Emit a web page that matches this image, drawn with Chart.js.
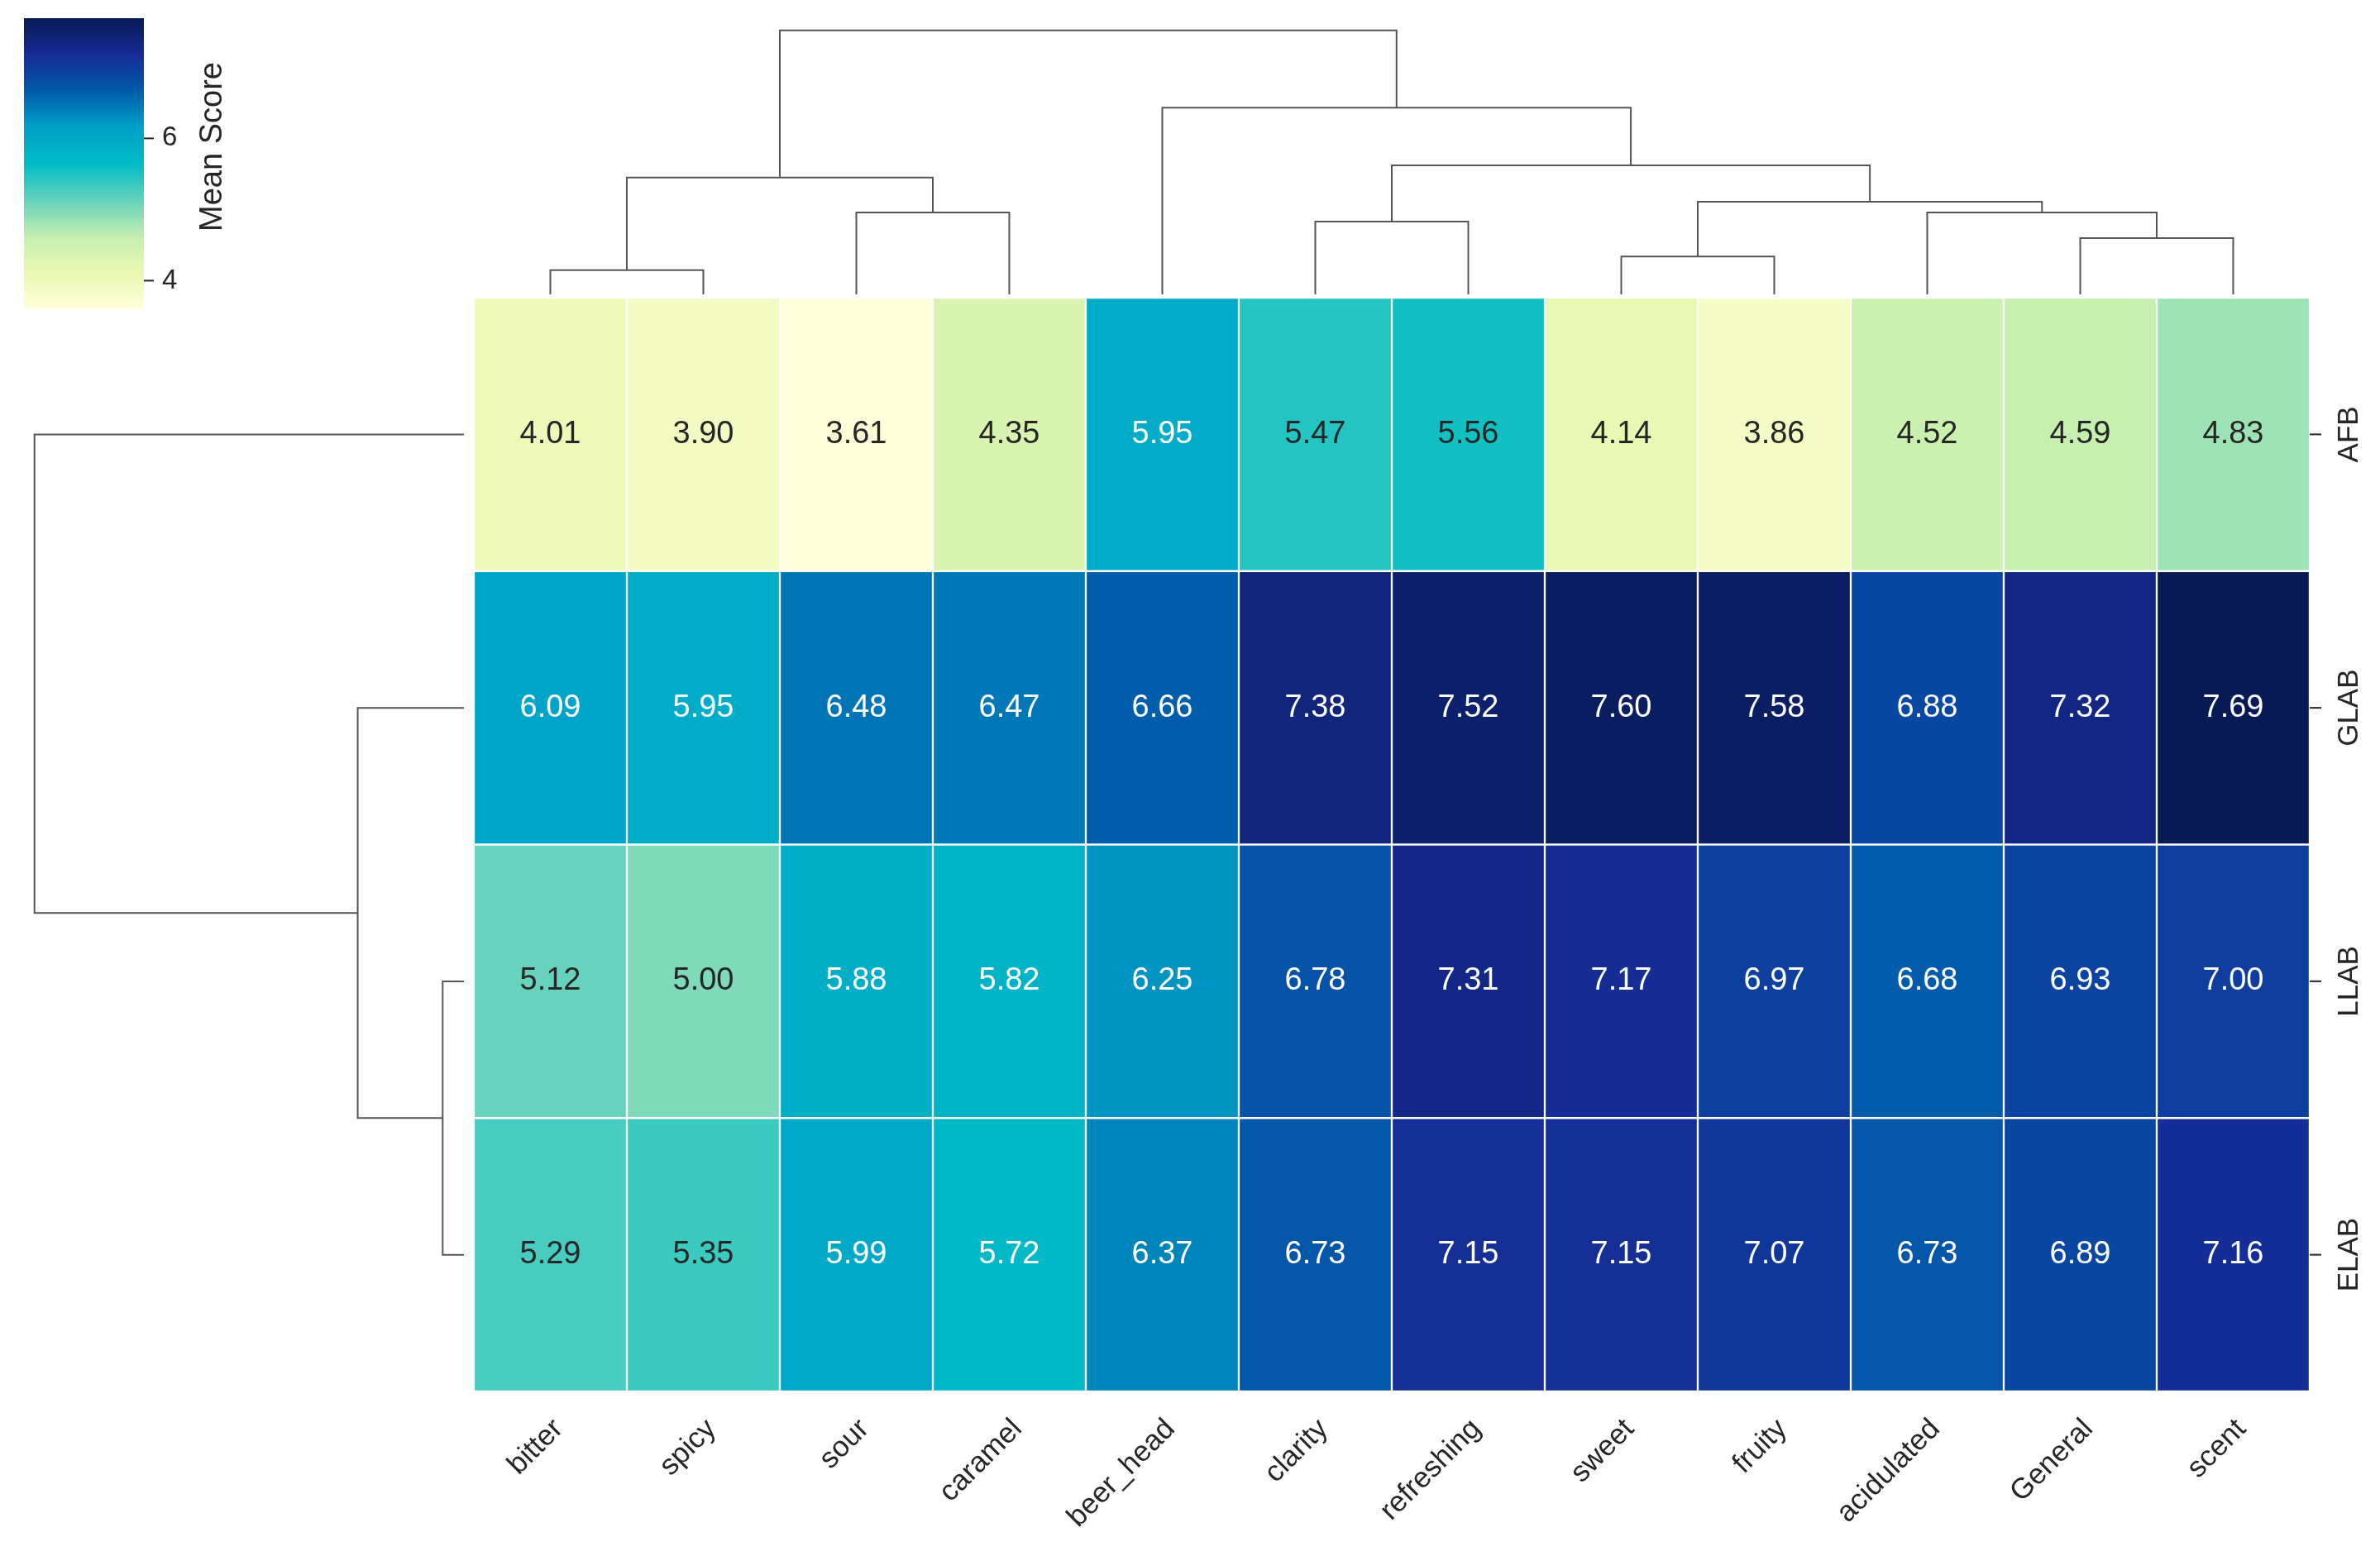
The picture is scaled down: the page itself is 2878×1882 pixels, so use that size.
<!DOCTYPE html>
<html>
<head>
<meta charset="utf-8">
<script src="https://cdn.jsdelivr.net/npm/chart.js@4"></script>
<style>
  html, body { margin: 0; padding: 0; background: #fff; }
  #wrap { width: 2878px; height: 1882px; position: relative; }
</style>
</head>
<body>
<div id="wrap"><canvas id="heat"></canvas></div>
<script>
// columns in dendrogram order
const columns = ['bitter', 'spicy', 'sour', 'caramel', 'beer_head', 'clarity', 'refreshing', 'sweet', 'fruity', 'acidulated', 'General', 'scent'];
const rows = ['AFB', 'GLAB', 'LLAB', 'ELAB'];
const afb  = [4.01, 3.90, 3.61, 4.35, 5.95, 5.47, 5.56, 4.14, 3.86, 4.52, 4.59, 4.83];
const glab = [6.09, 5.95, 6.48, 6.47, 6.66, 7.38, 7.52, 7.60, 7.58, 6.88, 7.32, 7.69];
const llab = [5.12, 5.00, 5.88, 5.82, 6.25, 6.78, 7.31, 7.17, 6.97, 6.68, 6.93, 7.00];
const elab = [5.29, 5.35, 5.99, 5.72, 6.37, 6.73, 7.15, 7.15, 7.07, 6.73, 6.89, 7.16];
const colorTicks = [4, 6];
// linkage: [childA, childB, height]; leaves are 0..n-1, new nodes n, n+1, ...
const colLinkage = [[0,1,16],[2,3,54],[12,13,77],[5,6,48],[7,8,25],[10,11,37],[9,17,54],[16,18,61],[15,19,85],[4,20,123],[14,21,174]];
const rowLinkage = [[2,3,14],[1,4,70],[0,5,283]];

const matrix = [afb, glab, llab, elab];
const vmin = 3.61, vmax = 7.69;
// YlGnBu-like, a bit more saturated like the picture
const stopsRgb = [[255,255,217],[234,248,178],[196,238,176],[100,210,188],[0,188,198],[0,160,200],[0,92,170],[22,44,150],[8,26,86]];

function cmap(v) {
  let t = Math.max(0, Math.min(1, (v - vmin) / (vmax - vmin))) * (stopsRgb.length - 1);
  let i = Math.min(Math.floor(t), stopsRgb.length - 2), f = t - i;
  const a = stopsRgb[i], b = stopsRgb[i + 1];
  return a.map((c, k) => Math.round(c + (b[k] - c) * f));
}
function rgb(c) { return 'rgb(' + c.join(',') + ')'; }
function lum(c) {
  const l = c.map(x => { x /= 255; return x <= 0.03928 ? x / 12.92 : Math.pow((x + 0.055) / 1.055, 2.4); });
  return 0.2126 * l[0] + 0.7152 * l[1] + 0.0722 * l[2];
}

// stacked bars, bottom row first
const datasets = rows.slice().reverse().map(function(r) {
  const vals = matrix[rows.indexOf(r)];
  return {
    label: r,
    data: vals.map(() => 1),
    backgroundColor: vals.map(v => rgb(cmap(v))),
    borderColor: '#ffffff',
    borderWidth: 1.5,
    borderSkipped: false,
    barPercentage: 1,
    categoryPercentage: 1
  };
});

function dendroPositions(linkage, n, leafPos) {
  const pos = leafPos.slice(), h = new Array(n).fill(0);
  linkage.forEach(function(m) {
    pos.push((pos[m[0]] + pos[m[1]]) / 2);
    h.push(m[2]);
  });
  return { pos: pos, h: h };
}

const FONT = '"Liberation Sans", Arial, sans-serif';

const heatPlugin = {
  id: 'heatExtras',
  afterDatasetsDraw(chart) {
    const ctx = chart.ctx, xs = chart.scales.x, ys = chart.scales.y, area = chart.chartArea;
    ctx.save();
    // cell values
    ctx.font = '38px ' + FONT;
    ctx.textAlign = 'center';
    ctx.textBaseline = 'middle';
    rows.forEach(function(r, ri) {
      const yc = ys.getPixelForValue(rows.length - ri - 0.5);
      matrix[ri].forEach(function(v, ci) {
        const c = cmap(v);
        ctx.fillStyle = lum(c) > 0.408 ? '#262626' : '#ffffff';
        ctx.fillText(v.toFixed(2), xs.getPixelForValue(ci), yc);
      });
    });
    // x labels
    ctx.fillStyle = '#262626';
    ctx.font = '35px ' + FONT;
    ctx.textAlign = 'right';
    ctx.textBaseline = 'middle';
    columns.forEach(function(c, ci) {
      ctx.save();
      ctx.translate(xs.getPixelForValue(ci) + 10, area.bottom + 40);
      ctx.rotate(-Math.PI / 4);
      ctx.fillText(c, 0, 0);
      ctx.restore();
    });
    // y labels on the right
    ctx.strokeStyle = '#262626';
    ctx.lineWidth = 2;
    ctx.textAlign = 'center';
    rows.forEach(function(r, ri) {
      const yc = ys.getPixelForValue(rows.length - ri - 0.5);
      ctx.beginPath(); ctx.moveTo(area.right, yc); ctx.lineTo(area.right + 14, yc); ctx.stroke();
      ctx.save();
      ctx.translate(area.right + 48, yc);
      ctx.rotate(-Math.PI / 2);
      ctx.fillText(r, 0, 0);
      ctx.restore();
    });
    // column dendrogram
    ctx.strokeStyle = '#555555';
    ctx.lineWidth = 2;
    const cd = dendroPositions(colLinkage, columns.length, columns.map((c, i) => xs.getPixelForValue(i)));
    const colBase = area.top - 4, colK = 1.835;
    colLinkage.forEach(function(m) {
      const a = m[0], b = m[1], y = colBase - m[2] * colK;
      ctx.beginPath();
      ctx.moveTo(cd.pos[a], colBase - cd.h[a] * colK);
      ctx.lineTo(cd.pos[a], y);
      ctx.lineTo(cd.pos[b], y);
      ctx.lineTo(cd.pos[b], colBase - cd.h[b] * colK);
      ctx.stroke();
    });
    // row dendrogram
    const rd = dendroPositions(rowLinkage, rows.length, rows.map((r, i) => ys.getPixelForValue(rows.length - i - 0.5)));
    const rowBase = area.left - 12, rowK = 1.835;
    rowLinkage.forEach(function(m) {
      const a = m[0], b = m[1], x = rowBase - m[2] * rowK;
      ctx.beginPath();
      ctx.moveTo(rowBase - rd.h[a] * rowK, rd.pos[a]);
      ctx.lineTo(x, rd.pos[a]);
      ctx.lineTo(x, rd.pos[b]);
      ctx.lineTo(rowBase - rd.h[b] * rowK, rd.pos[b]);
      ctx.stroke();
    });
    // colour bar
    const cbL = 29, cbR = 174, cbT = 22, cbB = 373;
    for (let py = cbT; py < cbB; py++) {
      const v = vmax - (py - cbT) / (cbB - cbT) * (vmax - vmin);
      ctx.fillStyle = rgb(cmap(v));
      ctx.fillRect(cbL, py, cbR - cbL, 1.5);
    }
    ctx.strokeStyle = '#262626';
    ctx.fillStyle = '#262626';
    ctx.font = '33px ' + FONT;
    ctx.textAlign = 'left';
    colorTicks.forEach(function(t) {
      const py = cbT + (vmax - t) / (vmax - vmin) * (cbB - cbT);
      ctx.beginPath(); ctx.moveTo(cbR, py); ctx.lineTo(cbR + 12, py); ctx.stroke();
      ctx.fillText(String(t), cbR + 22, py);
    });
    ctx.save();
    ctx.font = '38px ' + FONT;
    ctx.translate(cbR + 84, (cbT + cbB) / 2 - 20);
    ctx.rotate(-Math.PI / 2);
    ctx.textAlign = 'center';
    ctx.fillText('Mean Score', 0, 0);
    ctx.restore();
    ctx.restore();
  }
};

new Chart(document.getElementById('heat'), {
  type: 'bar',
  data: { labels: columns, datasets: datasets },
  options: {
    responsive: true,
    maintainAspectRatio: false,
    animation: false,
    layout: { padding: { left: 573, top: 360, right: 85, bottom: 199 } },
    plugins: { legend: { display: false }, tooltip: { enabled: false } },
    scales: {
      x: { display: false, stacked: true, grid: { display: false } },
      y: { display: false, stacked: true, min: 0, max: 4 }
    }
  },
  plugins: [heatPlugin]
});
</script>
</body>
</html>
